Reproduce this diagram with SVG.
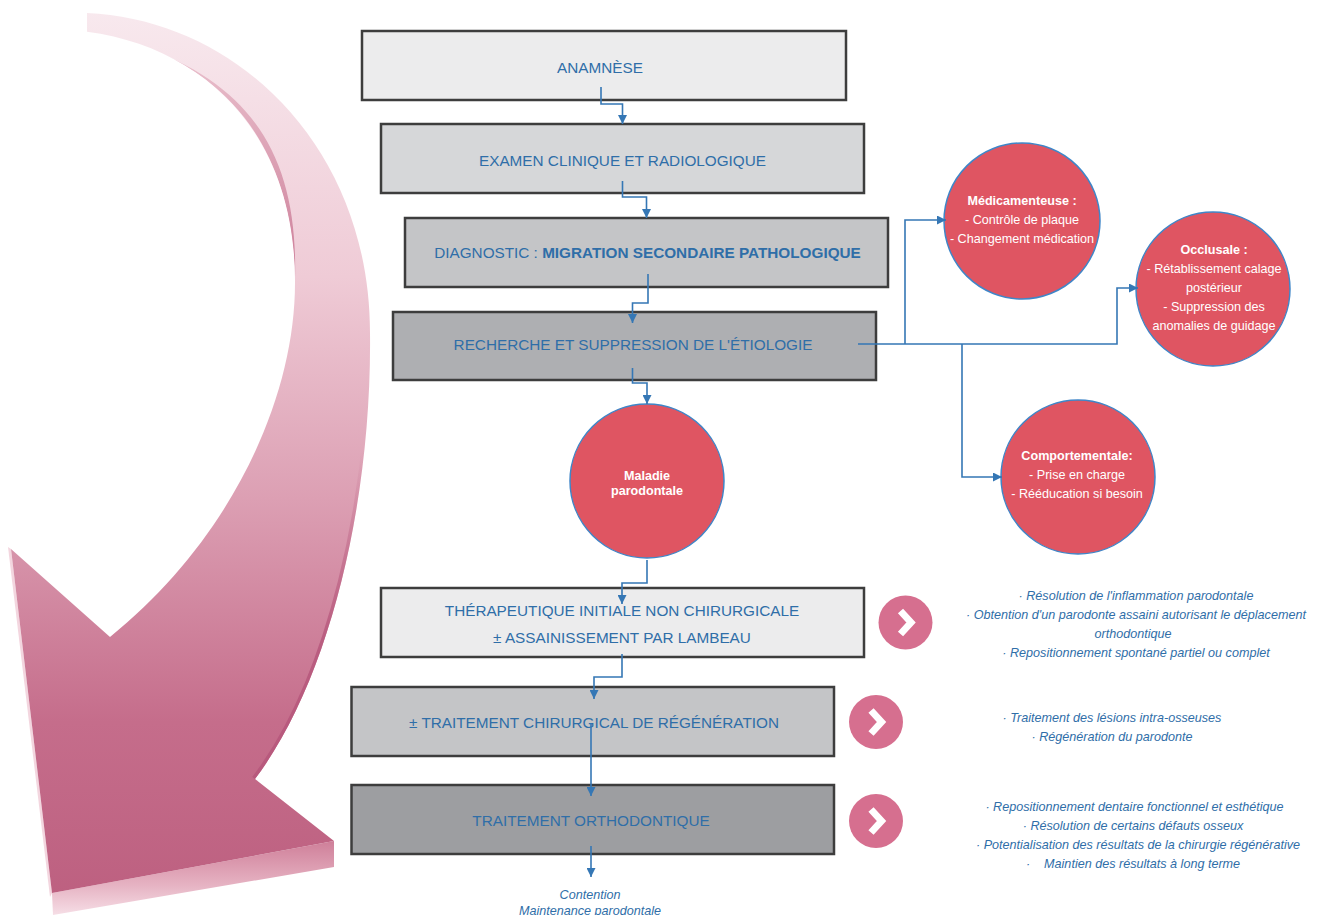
<svg xmlns="http://www.w3.org/2000/svg" width="1322" height="915" viewBox="0 0 1322 915">
<defs>
  <linearGradient id="arrowFace" x1="0" y1="10" x2="0" y2="900" gradientUnits="userSpaceOnUse">
    <stop offset="0" stop-color="#f8e9ee"/>
    <stop offset="0.3" stop-color="#efcbd6"/>
    <stop offset="0.55" stop-color="#dc9fb3"/>
    <stop offset="0.8" stop-color="#c56d8b"/>
    <stop offset="1" stop-color="#bd6080"/>
  </linearGradient>
  <linearGradient id="arrowBase" x1="0" y1="841" x2="0" y2="915" gradientUnits="userSpaceOnUse">
    <stop offset="0" stop-color="#cf7f99"/>
    <stop offset="0.6" stop-color="#e6b3c3"/>
    <stop offset="1" stop-color="#f6dee6"/>
  </linearGradient>
  <linearGradient id="bandGrad" x1="0" y1="57" x2="0" y2="280" gradientUnits="userSpaceOnUse">
    <stop offset="0" stop-color="#e9bfcc"/>
    <stop offset="1" stop-color="#cc7d98"/>
  </linearGradient>
  <linearGradient id="edgeGrad" x1="0" y1="450" x2="0" y2="640" gradientUnits="userSpaceOnUse">
    <stop offset="0" stop-color="#b5557a" stop-opacity="0"/>
    <stop offset="1" stop-color="#b5557a" stop-opacity="0.8"/>
  </linearGradient>
  <clipPath id="faceClip">
    <path d="M87,13 C240,20 370,150 370,333 C372,500 330,680 255,779 L334,841 L52,893 L11,549 L110,637 C230,540 295,400 295,283 C296,140 210,48 87,31.7 Z"/>
  </clipPath>
  <marker id="ah" viewBox="0 0 10 10" refX="10" refY="5" markerWidth="9" markerHeight="9" markerUnits="userSpaceOnUse" orient="auto">
    <path d="M0,0 L10,5 L0,10 z" fill="#3577b5"/>
  </marker>
  <style>
    .box { stroke: #3d3d3d; stroke-width: 2.5; }
    .bt { font-family: "Liberation Sans", Arial, sans-serif; font-size: 15.3px; fill: #2f6ea8; text-anchor: middle; }
    .bold { font-weight: bold; }
    .conn { fill: none; stroke: #3577b5; stroke-width: 1.6; marker-end: url(#ah); }
    .red { fill: #df5562; stroke: #3f86c8; stroke-width: 1.5; }
    .ct { font-family: "Liberation Sans", Arial, sans-serif; font-size: 12.6px; fill: #ffffff; text-anchor: middle; }
    .pink { fill: #d66f8f; }
    .chev { fill: none; stroke: #ffffff; stroke-width: 7; stroke-linejoin: miter; }
    .it { font-family: "Liberation Sans", Arial, sans-serif; font-size: 12.6px; font-style: italic; fill: #2f6ea8; text-anchor: middle; }
  </style>
</defs>
<rect width="1322" height="915" fill="#ffffff"/>

<g id="big-arrow">
  <path d="M52,893 L334,841 L334,867 L53,915 Z" fill="url(#arrowBase)"/>
  <path d="M8,547 L11,549 L52,893 L50,897 Z" fill="#f3d6df"/>
  <path d="M87,13 C240,20 370,150 370,333 C372,500 330,680 255,779 L334,841 L52,893 L11,549 L110,637 C230,540 295,400 295,283 C296,140 210,48 87,31.7 Z" fill="url(#arrowFace)"/>
  <path d="M140,46 C225,74 292,145 295,278 C298,162 256,85 140,46 Z" fill="url(#bandGrad)" clip-path="url(#faceClip)"/>
  <path d="M370,333 C372,500 330,680 255,779" fill="none" stroke="url(#edgeGrad)" stroke-width="7" clip-path="url(#faceClip)"/>
</g>

<g id="anamnese">
  <rect class="box" x="362" y="31" width="484" height="69" fill="#ececed"/>
  <text class="bt" x="600" y="72.5">ANAMNÈSE</text>
</g>
<g id="examen">
  <rect class="box" x="381" y="124" width="483" height="69" fill="#d6d7d9"/>
  <text class="bt" x="622.5" y="165.5">EXAMEN CLINIQUE ET RADIOLOGIQUE</text>
</g>
<g id="diagnostic">
  <rect class="box" x="405" y="218" width="483" height="69" fill="#c4c5c7"/>
  <text class="bt" x="647.5" y="257.5">DIAGNOSTIC : <tspan class="bold">MIGRATION SECONDAIRE PATHOLOGIQUE</tspan></text>
</g>
<g id="recherche">
  <rect class="box" x="393" y="312" width="483" height="68" fill="#aeafb2"/>
  <text class="bt" x="633" y="349.5">RECHERCHE ET SUPPRESSION DE L'ÉTIOLOGIE</text>
</g>

<g id="maladie">
  <circle class="red" cx="647" cy="481" r="77"/>
  <text class="ct bold" x="647" y="479.5">Maladie</text>
  <text class="ct bold" x="647" y="494.5">parodontale</text>
</g>
<g id="medicamenteuse">
  <circle class="red" cx="1022" cy="221" r="78"/>
  <text class="ct bold" x="1022" y="205">Médicamenteuse :</text>
  <text class="ct" x="1022" y="224">- Contrôle de plaque</text>
  <text class="ct" x="1022" y="243">- Changement médication</text>
</g>
<g id="occlusale">
  <circle class="red" cx="1213" cy="289" r="77"/>
  <text class="ct bold" x="1214" y="254">Occlusale :</text>
  <text class="ct" x="1214" y="273">- Rétablissement calage</text>
  <text class="ct" x="1214" y="292">postérieur</text>
  <text class="ct" x="1214" y="310.5">- Suppression des</text>
  <text class="ct" x="1214" y="329.5">anomalies de guidage</text>
</g>
<g id="comportementale">
  <circle class="red" cx="1078" cy="477" r="77"/>
  <text class="ct bold" x="1077" y="460">Comportementale:</text>
  <text class="ct" x="1077" y="479">- Prise en charge</text>
  <text class="ct" x="1077" y="498">- Rééducation si besoin</text>
</g>

<g id="therapeutique">
  <rect class="box" x="381" y="588" width="483" height="69" fill="#ececed"/>
  <text class="bt" x="622" y="615.5">THÉRAPEUTIQUE INITIALE NON CHIRURGICALE</text>
  <text class="bt" x="622" y="642.5">± ASSAINISSEMENT PAR LAMBEAU</text>
</g>
<g id="regeneration">
  <rect class="box" x="351.5" y="687" width="482.5" height="69" fill="#c4c5c7"/>
  <text class="bt" x="594" y="727.5">± TRAITEMENT CHIRURGICAL DE RÉGÉNÉRATION</text>
</g>
<g id="orthodontique">
  <rect class="box" x="351.5" y="785" width="482.5" height="69" fill="#9d9ea1"/>
  <text class="bt" x="591" y="825.5">TRAITEMENT ORTHODONTIQUE</text>
</g>

<g id="connectors">
  <path class="conn" d="M601,87 V104 H622.5 V124"/>
  <path class="conn" d="M622.5,181 V197 H646.5 V218"/>
  <path class="conn" d="M648,274 V303 H632.5 V323"/>
  <path class="conn" d="M632.5,368 V383 H647 V404"/>
  <path class="conn" d="M647,560 V583 H622 V604"/>
  <path class="conn" d="M622,654 V677 H594 V699"/>
  <path class="conn" d="M591,723 V796"/>
  <path class="conn" d="M591,846 V877"/>
  <path class="conn" d="M858,344 H1117 V288 H1138"/>
  <path class="conn" d="M905,344 V220 H946"/>
  <path class="conn" d="M962,344 V477 H1002"/>
</g>

<g id="contention">
  <text class="it" x="590" y="899">Contention</text>
  <text class="it" x="590" y="914.5">Maintenance parodontale</text>
</g>

<g id="chevron-1">
  <circle class="pink" cx="905.5" cy="622.5" r="27"/>
  <polyline class="chev" points="900.5,611 911,622.5 900.5,634"/>
</g>
<g id="chevron-2">
  <circle class="pink" cx="876" cy="722" r="27"/>
  <polyline class="chev" points="871,710.5 881.5,722 871,733.5"/>
</g>
<g id="chevron-3">
  <circle class="pink" cx="876" cy="821" r="27"/>
  <polyline class="chev" points="871,809.5 881.5,821 871,832.5"/>
</g>

<g id="notes-initiale">
  <text class="it" x="1136" y="599.5">· Résolution de l'inflammation parodontale</text>
  <text class="it" x="1136" y="619">· Obtention d'un parodonte assaini autorisant le déplacement</text>
  <text class="it" x="1133" y="638">orthodontique</text>
  <text class="it" x="1136" y="657">· Repositionnement spontané partiel ou complet</text>
</g>
<g id="notes-regeneration">
  <text class="it" x="1112" y="722">· Traitement des lésions intra-osseuses</text>
  <text class="it" x="1112" y="741">· Régénération du parodonte</text>
</g>
<g id="notes-orthodontique">
  <text class="it" x="1134.5" y="811">· Repositionnement dentaire fonctionnel et esthétique</text>
  <text class="it" x="1133" y="830">· Résolution de certains défauts osseux</text>
  <text class="it" x="1138" y="849">· Potentialisation des résultats de la chirurgie régénérative</text>
  <text class="it" x="1133" y="868" xml:space="preserve">·    Maintien des résultats à long terme</text>
</g>
</svg>
